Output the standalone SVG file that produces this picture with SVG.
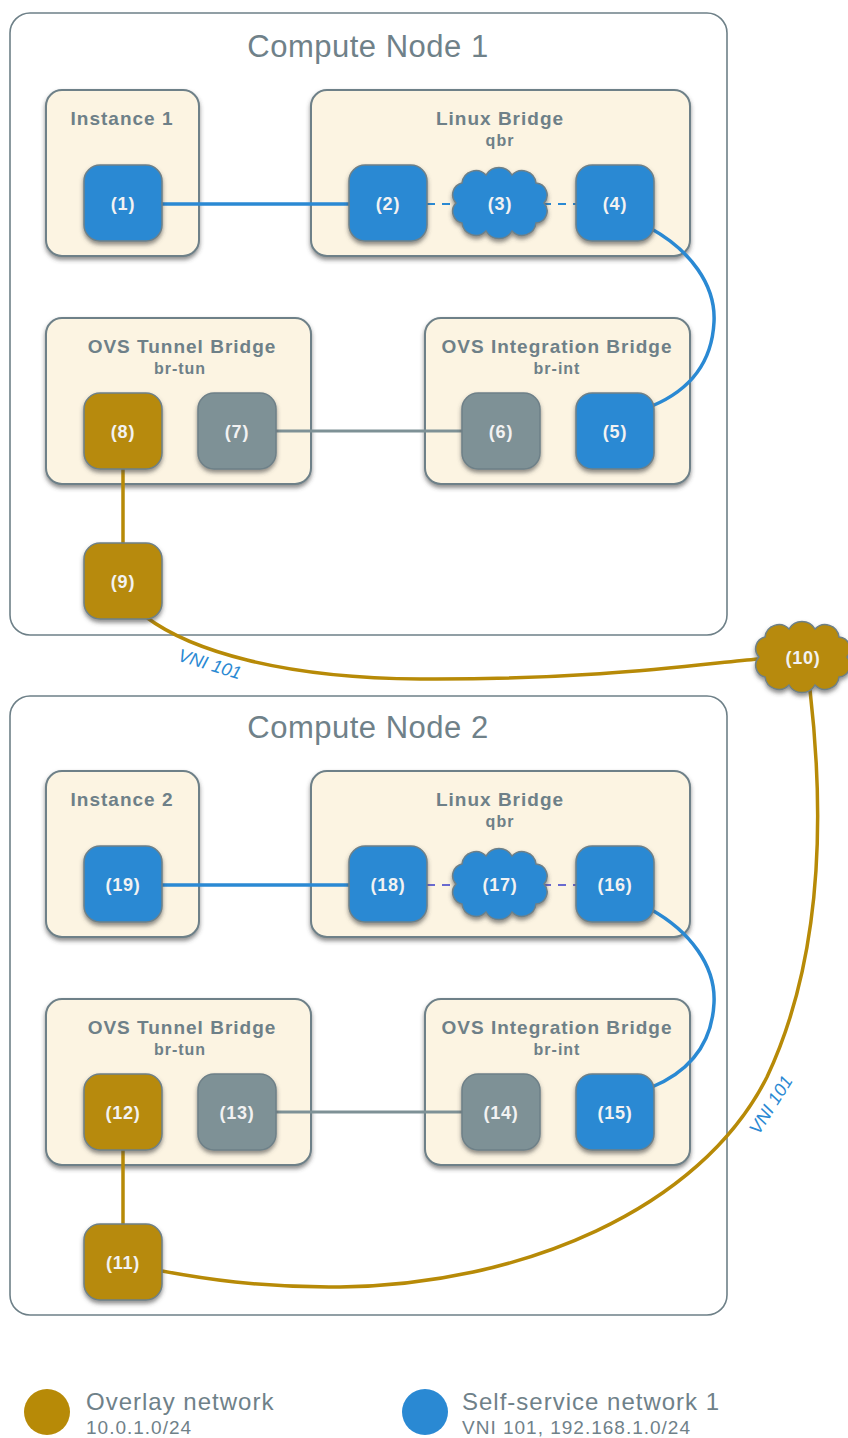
<svg xmlns="http://www.w3.org/2000/svg" xmlns:xlink="http://www.w3.org/1999/xlink" width="848" height="1438" viewBox="0 0 848 1438">
<style>
.outer{fill:#fff;stroke:#6e8088;stroke-width:1.6}
.box{fill:#fcf4e2;stroke:#6e8088;stroke-width:2;filter:url(#sh)}
.port{stroke:#6e8088;stroke-width:1.5;filter:url(#sh)}
.blue{fill:#2a89d3}
.gold{fill:#b78a07}
.grey{fill:#7e9196}
.title{font-family:"Liberation Sans",Arial,sans-serif;font-size:31px;letter-spacing:0.5px;fill:#6f8189;text-anchor:middle}
.lbl{font-family:"Liberation Sans",Arial,sans-serif;font-weight:bold;font-size:19px;letter-spacing:1px;fill:#6e8088;text-anchor:middle}
.sub{font-family:"Liberation Sans",Arial,sans-serif;font-weight:bold;font-size:16px;letter-spacing:1px;fill:#6e8088;text-anchor:middle}
.pl{font-family:"Liberation Sans",Arial,sans-serif;font-weight:bold;font-size:18px;letter-spacing:0.8px;fill:#f2f2f2;text-anchor:middle}
.vni{font-family:"Liberation Sans",Arial,sans-serif;font-style:italic;font-size:18px;fill:#2a89d3;text-anchor:middle}
.leg{font-family:"Liberation Sans",Arial,sans-serif;font-size:24px;letter-spacing:1px;fill:#6f8189}
.legs{font-family:"Liberation Sans",Arial,sans-serif;font-size:19px;letter-spacing:1px;fill:#6f8189}
.cb{fill:none;stroke:#2a89d3;stroke-width:3.5}
.cg{fill:none;stroke:#b78a07;stroke-width:3.5}
.cy{fill:none;stroke:#7e9196;stroke-width:3}
.cd{fill:none;stroke:#2a89d3;stroke-width:2;stroke-dasharray:8 7}
.cdp{fill:none;stroke:#6a6ad0;stroke-width:2;stroke-dasharray:8 7}
</style>
<defs>
<filter id="sh" x="-20%" y="-20%" width="140%" height="150%">
<feDropShadow dx="0" dy="3" stdDeviation="2.2" flood-color="#444" flood-opacity="0.6"/>
</filter>
<path id="cloud" d="M -44 0 A 12 12 0 0 1 -38 -20 A 14 14 0 0 1 -14 -28 A 15 15 0 0 1 12 -28 A 14 14 0 0 1 36 -20 A 12 12 0 0 1 44 0 A 12 12 0 0 1 36 20 A 14 14 0 0 1 12 28 A 15 15 0 0 1 -14 28 A 14 14 0 0 1 -38 20 A 12 12 0 0 1 -44 0 Z"/>
</defs>
<rect width="848" height="1438" fill="#fff"/>

<g id="compute-node-1">
<rect class="outer" x="10" y="13" width="717" height="622" rx="20"/>
<text class="title" x="368" y="57">Compute Node 1</text>
</g>
<g id="compute-node-2">
<rect class="outer" x="10" y="696" width="717" height="619" rx="20"/>
<text class="title" x="368" y="738">Compute Node 2</text>
</g>

<g id="instance-1"><rect class="box" x="46" y="90" width="153" height="166" rx="16"/><text class="lbl" x="122" y="125">Instance 1</text></g>
<g id="linux-bridge-1"><rect class="box" x="311" y="90" width="379" height="166" rx="16"/><text class="lbl" x="500" y="125">Linux Bridge</text><text class="sub" x="500" y="146">qbr</text></g>
<g id="ovs-tun-1"><rect class="box" x="46" y="318" width="265" height="166" rx="16"/><text class="lbl" x="182" y="353">OVS Tunnel Bridge</text><text class="sub" x="180" y="374">br-tun</text></g>
<g id="ovs-int-1"><rect class="box" x="425" y="318" width="265" height="166" rx="16"/><text class="lbl" x="557" y="353">OVS Integration Bridge</text><text class="sub" x="557" y="374">br-int</text></g>

<g id="instance-2"><rect class="box" x="46" y="771" width="153" height="166" rx="16"/><text class="lbl" x="122" y="806">Instance 2</text></g>
<g id="linux-bridge-2"><rect class="box" x="311" y="771" width="379" height="166" rx="16"/><text class="lbl" x="500" y="806">Linux Bridge</text><text class="sub" x="500" y="827">qbr</text></g>
<g id="ovs-tun-2"><rect class="box" x="46" y="999" width="265" height="166" rx="16"/><text class="lbl" x="182" y="1034">OVS Tunnel Bridge</text><text class="sub" x="180" y="1055">br-tun</text></g>
<g id="ovs-int-2"><rect class="box" x="425" y="999" width="265" height="166" rx="16"/><text class="lbl" x="557" y="1034">OVS Integration Bridge</text><text class="sub" x="557" y="1055">br-int</text></g>

<g id="connectors">
<line class="cb" x1="162" y1="204" x2="349" y2="204"/>
<line class="cd" x1="427" y1="204" x2="458" y2="204"/>
<line class="cd" x1="543" y1="204" x2="576" y2="204"/>
<path class="cb" d="M 650 228 C 690 250, 716 285, 714 322 C 712 362, 690 390, 652 406"/>
<line class="cy" x1="275" y1="431" x2="462" y2="431"/>
<line class="cg" x1="123" y1="468" x2="123" y2="544"/>
<path class="cg" d="M 146 617 C 190 650, 280 678, 420 679 C 600 680, 700 664, 758 659"/>
<line class="cb" x1="162" y1="885" x2="349" y2="885"/>
<line class="cdp" x1="427" y1="885" x2="458" y2="885"/>
<line class="cdp" x1="543" y1="885" x2="576" y2="885"/>
<path class="cb" d="M 650 909 C 690 931, 716 966, 714 1003 C 712 1043, 690 1071, 652 1087"/>
<line class="cy" x1="275" y1="1112" x2="462" y2="1112"/>
<line class="cg" x1="123" y1="1149" x2="123" y2="1225"/>
<path class="cg" d="M 810 690 C 825 820, 822 960, 767 1077 C 700 1210, 520 1285, 340 1287 C 260 1288, 200 1278, 162 1271"/>
<text class="vni" transform="translate(208,670) rotate(17)">VNI 101</text>
<text class="vni" transform="translate(776,1108) rotate(-58)">VNI 101</text>
</g>

<g id="p1"><rect class="port blue" x="84" y="165" width="78" height="76" rx="16"/><text class="pl" x="123" y="210">(1)</text></g>
<g id="p2"><rect class="port blue" x="349" y="165" width="78" height="76" rx="16"/><text class="pl" x="388" y="210">(2)</text></g>
<g id="p3"><use href="#cloud" class="port blue" transform="translate(500,203)"/><text class="pl" x="500" y="210">(3)</text></g>
<g id="p4"><rect class="port blue" x="576" y="165" width="78" height="76" rx="16"/><text class="pl" x="615" y="210">(4)</text></g>
<g id="p5"><rect class="port blue" x="576" y="393" width="78" height="76" rx="16"/><text class="pl" x="615" y="438">(5)</text></g>
<g id="p6"><rect class="port grey" x="462" y="393" width="78" height="76" rx="16"/><text class="pl" x="501" y="438">(6)</text></g>
<g id="p7"><rect class="port grey" x="198" y="393" width="78" height="76" rx="16"/><text class="pl" x="237" y="438">(7)</text></g>
<g id="p8"><rect class="port gold" x="84" y="393" width="78" height="76" rx="16"/><text class="pl" x="123" y="438">(8)</text></g>
<g id="p9"><rect class="port gold" x="84" y="543" width="78" height="76" rx="16"/><text class="pl" x="123" y="588">(9)</text></g>
<g id="p10"><use href="#cloud" class="port gold" transform="translate(803,657)"/><text class="pl" x="803" y="664">(10)</text></g>
<g id="p11"><rect class="port gold" x="84" y="1224" width="78" height="76" rx="16"/><text class="pl" x="123" y="1269">(11)</text></g>
<g id="p12"><rect class="port gold" x="84" y="1074" width="78" height="76" rx="16"/><text class="pl" x="123" y="1119">(12)</text></g>
<g id="p13"><rect class="port grey" x="198" y="1074" width="78" height="76" rx="16"/><text class="pl" x="237" y="1119">(13)</text></g>
<g id="p14"><rect class="port grey" x="462" y="1074" width="78" height="76" rx="16"/><text class="pl" x="501" y="1119">(14)</text></g>
<g id="p15"><rect class="port blue" x="576" y="1074" width="78" height="76" rx="16"/><text class="pl" x="615" y="1119">(15)</text></g>
<g id="p16"><rect class="port blue" x="576" y="846" width="78" height="76" rx="16"/><text class="pl" x="615" y="891">(16)</text></g>
<g id="p17"><use href="#cloud" class="port blue" transform="translate(500,884)"/><text class="pl" x="500" y="891">(17)</text></g>
<g id="p18"><rect class="port blue" x="349" y="846" width="78" height="76" rx="16"/><text class="pl" x="388" y="891">(18)</text></g>
<g id="p19"><rect class="port blue" x="84" y="846" width="78" height="76" rx="16"/><text class="pl" x="123" y="891">(19)</text></g>

<g id="legend">
<circle cx="47" cy="1412" r="23" fill="#b78a07"/>
<text class="leg" x="86" y="1410">Overlay network</text>
<text class="legs" x="86" y="1434">10.0.1.0/24</text>
<circle cx="425" cy="1412" r="23" fill="#2a89d3"/>
<text class="leg" x="462" y="1410">Self-service network 1</text>
<text class="legs" x="462" y="1434">VNI 101, 192.168.1.0/24</text>
</g>
</svg>
